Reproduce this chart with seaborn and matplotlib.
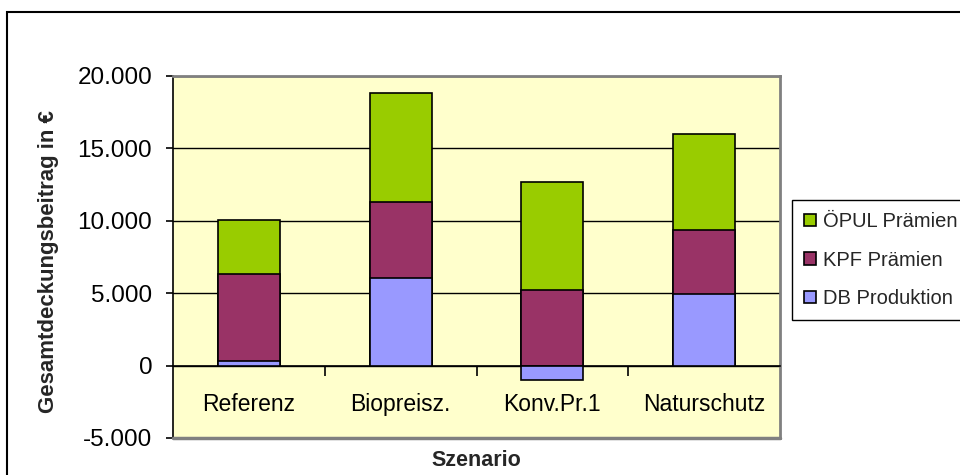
import matplotlib
matplotlib.use("Agg")
import matplotlib.pyplot as plt
import seaborn as sns
import numpy as np
from matplotlib.patches import Patch, Rectangle
from matplotlib.lines import Line2D
from matplotlib.ticker import FuncFormatter, FixedLocator

# ---- data ----
categories = ["Referenz", "Biopreisz.", "Konv.Pr.1", "Naturschutz"]
db_produktion = [350, 6040, -1000, 4930]
kpf_praemien = [6010, 5250, 5250, 4420]
oepul_praemien = [3700, 7510, 7450, 6660]
series_names = ["DB Produktion", "KPF Prämien", "ÖPUL Prämien"]
y_ticks = [-5000, 0, 5000, 10000, 15000, 20000]

colors = {"DB Produktion": "#9999FF", "KPF Prämien": "#993366", "ÖPUL Prämien": "#99CC00"}

sns.set_theme(style="white")
plt.rcParams["font.family"] = ["Liberation Sans", "DejaVu Sans"]

fig = plt.figure(figsize=(9.6, 4.75), dpi=100)
W, H = 960, 475
ax = fig.add_axes([173 / W, 1 - 438 / H, (780 - 173) / W, (438 - 76) / H])
ax.set_facecolor("#FFFFCC")

# stacked positions (positives stacked from 0, negatives separately)
db = np.array(db_produktion, dtype=float)
kpf = np.array(kpf_praemien, dtype=float)
oe = np.array(oepul_praemien, dtype=float)
pos_base = np.where(db > 0, db, 0)
kpf_top = pos_base + kpf
oe_top = kpf_top + oe

# draw from top layer down so lower layers cover upper-layer fill
for heights, name in [(oe_top, "ÖPUL Prämien"), (kpf_top, "KPF Prämien"), (db, "DB Produktion")]:
    sns.barplot(x=categories, y=list(heights), color=colors[name], width=0.41,
                saturation=1, edgecolor="black", linewidth=1.2, ax=ax, zorder=3)

ax.set_xlim(-0.5, 3.5)
ax.set_ylim(-5000, 20000)
ax.yaxis.set_major_locator(FixedLocator(y_ticks))
ax.yaxis.set_major_formatter(FuncFormatter(lambda v, p: f"{int(v):,}".replace(",", ".")))
ax.grid(axis="y", color="black", linewidth=1.0)
ax.grid(axis="x", visible=False)
ax.set_axisbelow(True)

# spines
ax.spines["left"].set_color("black")
ax.spines["left"].set_linewidth(1.2)
for s in ["top", "right"]:
    ax.spines[s].set_color("#808080")
    ax.spines[s].set_linewidth(2)
ax.spines["bottom"].set_position(("data", 0))
ax.spines["bottom"].set_color("black")
ax.spines["bottom"].set_linewidth(1.2)
ax.add_line(Line2D([0, 1], [0, 0], transform=ax.transAxes, color="#808080", lw=2.5, clip_on=False, zorder=5))

# y ticks
ax.tick_params(axis="y", which="major", direction="out", length=5, width=1.2, color="black",
               left=True, labelsize=17.5, pad=10, labelcolor="black")
# x ticks: boundaries (major, no labels), category labels (minor)
ax.xaxis.set_major_locator(FixedLocator([0.5, 1.5, 2.5]))
ax.xaxis.set_minor_locator(FixedLocator([0, 1, 2, 3]))
ax.set_xticklabels([], minor=False)
ax.set_xticklabels(categories, minor=True)
ax.tick_params(axis="x", which="major", direction="out", length=7, width=1.2, color="black", bottom=True)
ax.tick_params(axis="x", which="minor", length=0, labelsize=16.5, pad=20, labelcolor="black")

ax.set_xlabel("")
ax.set_ylabel("")
fig.text(476 / W, 1 - 461 / H, "Szenario", ha="center", va="center", fontsize=15.5, fontweight="bold")
fig.text(49 / W, 1 - 262 / H, "Gesamtdeckungsbeitrag in €", ha="center", va="center",
         rotation=90, fontsize=16, fontweight="bold")

# legend
handles = [Patch(facecolor=colors[n], edgecolor="black", linewidth=1.2) for n in
           ["ÖPUL Prämien", "KPF Prämien", "DB Produktion"]]
leg = fig.legend(handles, ["ÖPUL Prämien", "KPF Prämien", "DB Produktion"],
                 loc="upper left", bbox_to_anchor=(792 / W, 1 - 200 / H), borderaxespad=0,
                 fontsize=14.5, frameon=True, fancybox=False, framealpha=1, edgecolor="black",
                 handlelength=0.55, handleheight=0.55, handletextpad=0.35, labelspacing=0.95,
                 borderpad=0.62)
leg.get_frame().set_linewidth(1.0)

# outer chart border
fig.add_artist(Rectangle((7 / W, -0.1), 1.2, 1 - 12 / H + 0.1, transform=fig.transFigure,
                         fill=False, edgecolor="black", linewidth=1.5))

fig.savefig("out.png", dpi=100)
